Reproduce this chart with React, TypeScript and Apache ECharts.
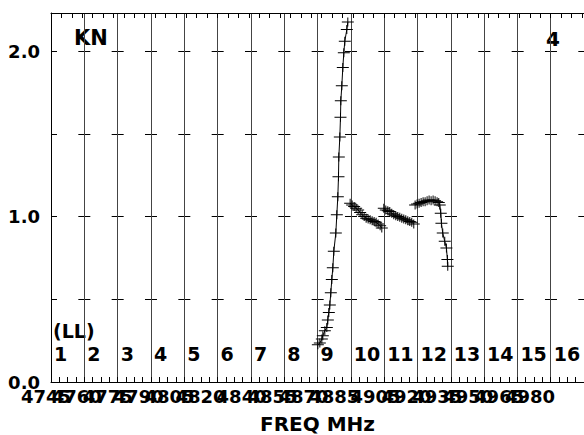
import React, { useEffect, useRef } from "react";
import * as echarts from "echarts";

// Channel-axis units: column k spans [k-1, k]
const ch9X = [8.01, 8.07, 8.13, 8.16, 8.22, 8.28, 8.31, 8.34, 8.37, 8.40, 8.43, 8.46, 8.49, 8.55, 8.58, 8.61, 8.63, 8.64, 8.67, 8.69, 8.70, 8.73, 8.76, 8.79, 8.82, 8.88, 8.91];
const ch9Y = [0.225, 0.235, 0.26, 0.28, 0.31, 0.33, 0.375, 0.42, 0.465, 0.54, 0.62, 0.69, 0.79, 0.90, 1.01, 1.12, 1.24, 1.36, 1.48, 1.60, 1.70, 1.79, 1.90, 1.99, 2.06, 2.13, 2.175];

const ch10X = [8.98, 9.04, 9.10, 9.16, 9.22, 9.28, 9.34, 9.40, 9.46, 9.52, 9.58, 9.64, 9.70, 9.76, 9.82, 9.88, 9.93];
const ch10Y = [1.08, 1.07, 1.06, 1.05, 1.04, 1.025, 1.01, 1.0, 0.99, 0.985, 0.98, 0.975, 0.97, 0.965, 0.955, 0.945, 0.93];

const ch11X = [9.99, 10.05, 10.11, 10.17, 10.23, 10.29, 10.35, 10.41, 10.47, 10.53, 10.59, 10.65, 10.71, 10.77, 10.83, 10.89];
const ch11Y = [1.05, 1.04, 1.035, 1.03, 1.02, 1.01, 1.005, 1.0, 0.995, 0.99, 0.985, 0.98, 0.975, 0.97, 0.965, 0.955];

const ch12X = [10.93, 10.99, 11.05, 11.11, 11.17, 11.23, 11.29, 11.35, 11.41, 11.47, 11.53, 11.59, 11.64, 11.67, 11.70, 11.72, 11.76, 11.82, 11.87, 11.90, 11.91];
const ch12Y = [1.07, 1.075, 1.08, 1.085, 1.09, 1.09, 1.095, 1.10, 1.095, 1.10, 1.095, 1.09, 1.085, 1.07, 1.02, 0.96, 0.90, 0.85, 0.81, 0.74, 0.70];

const freqLabels = [4745, 4760, 4775, 4790, 4805, 4820, 4840, 4855, 4870, 4885, 4905, 4920, 4935, 4950, 4965, 4980];
const yLabels = [0, 1, 2];

const FONT = "'DejaVu Sans', Verdana, sans-serif";
const CROSS = "path://M0,4L12,4L12,5L0,5Z M5.5,0L6.5,0L6.5,9L5.5,9Z";

const mk = (xs: number[], ys: number[]) => xs.map((x, i) => [x, ys[i]]);

export default function App() {
  const ref = useRef<HTMLDivElement>(null);
  useEffect(() => {
    if (!ref.current) return;
    const chart = echarts.init(ref.current, null, { renderer: "svg" });
    const lineSeries = (data: number[][]) => ({
      type: "line",
      xAxisIndex: 0,
      yAxisIndex: 0,
      data,
      symbol: CROSS,
      symbolSize: [12, 9],
      showAllSymbol: true,
      lineStyle: { color: "#000", width: 1 },
      itemStyle: { color: "#000" },
      silent: true,
      z: 5,
    });
    // frequency label axes (labels overlap in the reference; split in two so none is dropped)
    const freqAxis = (gridIndex: number, values: number[]) => ({
      gridIndex,
      type: "value",
      position: "bottom",
      min: 4722.7,
      max: 5006.2,
      axisLine: { show: false },
      axisTick: { show: false },
      splitLine: { show: false },
      axisLabel: {
        customValues: values,
        margin: 5,
        hideOverlap: false,
        showMinLabel: true,
        showMaxLabel: true,
        formatter: (v: number) => String(v),
        fontFamily: FONT,
        fontWeight: "bold",
        fontSize: 18,
        color: "#000",
      },
    });
    const gridBox = { top: 13, bottom: 53, containLabel: false, outerBoundsMode: "none" };
    chart.setOption({
      animation: false,
      backgroundColor: "#fff",
      grid: [
        { ...gridBox, left: 51, right: 0 },
        { ...gridBox, left: 0, right: 0 },
        { ...gridBox, left: 0, right: 0 },
      ],
      xAxis: [
        {
          gridIndex: 0,
          type: "value",
          position: "bottom",
          min: 0,
          max: 16,
          interval: 1,
          axisLine: { show: true, lineStyle: { color: "#000", width: 1 } },
          axisTick: { show: true, inside: true, length: 5, lineStyle: { color: "#000" } },
          minorTick: { show: true, splitNumber: 4, length: 5, lineStyle: { color: "#000" } },
          splitLine: { show: true, lineStyle: { color: "#444", width: 1 } },
          axisLabel: {
            inside: true,
            margin: 19,
            align: "left",
            padding: [0, 0, 0, 3],
            showMinLabel: true,
            showMaxLabel: true,
            formatter: (v: number) => (v < 16 ? String(v + 1) : ""),
            fontFamily: FONT,
            fontWeight: "bold",
            fontSize: 19,
            color: "#000",
          },
          name: "FREQ MHz",
          nameLocation: "middle",
          nameGap: 32,
          nameTextStyle: { fontFamily: FONT, fontWeight: "bold", fontSize: 20, lineHeight: 20, color: "#000" },
        },
        {
          gridIndex: 0,
          type: "value",
          position: "top",
          min: 4750,
          max: 5006,
          interval: 5,
          axisLine: { show: true, lineStyle: { color: "#000", width: 1 } },
          axisTick: { show: true, inside: true, length: 5, lineStyle: { color: "#000" } },
          axisLabel: { show: false },
          splitLine: { show: false },
        },
        freqAxis(1, freqLabels.filter((_, i) => i % 2 === 0)),
        freqAxis(2, freqLabels.filter((_, i) => i % 2 === 1)),
      ],
      yAxis: [
        {
          gridIndex: 0,
          type: "value",
          min: 0,
          max: 2.23,
          interval: 0.5,
          axisLine: { show: true, lineStyle: { color: "#000", width: 1 } },
          axisTick: { show: false },
          splitLine: {
            show: true,
            lineStyle: { color: "#000", width: 1, type: [12, 33.333 - 12], dashOffset: 6 },
          },
          axisLabel: {
            margin: 11,
            formatter: (v: number) => (yLabels.indexOf(v) >= 0 ? v.toFixed(1) : ""),
            fontFamily: FONT,
            fontWeight: "bold",
            fontSize: 18,
            color: "#000",
          },
        },
        { gridIndex: 1, type: "value", show: false, min: 0, max: 1 },
        { gridIndex: 2, type: "value", show: false, min: 0, max: 1 },
      ],
      graphic: [
        {
          type: "text",
          x: 74,
          y: 38,
          style: { text: "KN", font: `bold 21px ${FONT}`, fill: "#000", verticalAlign: "middle" },
        },
        {
          type: "text",
          x: 553,
          y: 39,
          style: { text: "4", font: `bold 20px ${FONT}`, fill: "#000", align: "center", verticalAlign: "middle" },
        },
        {
          type: "text",
          x: 53,
          y: 331,
          style: { text: "(LL)", font: `bold 19px ${FONT}`, fill: "#000", verticalAlign: "middle" },
        },
      ],
      series: [
        lineSeries(mk(ch9X, ch9Y)),
        lineSeries(mk(ch10X, ch10Y)),
        lineSeries(mk(ch11X, ch11Y)),
        lineSeries(mk(ch12X, ch12Y)),
      ],
    });
    return () => chart.dispose();
  }, []);
  return (
    <div
      ref={ref}
      style={{ position: "fixed", left: 0, top: 0, width: 584, height: 435, background: "#fff" }}
    />
  );
}
